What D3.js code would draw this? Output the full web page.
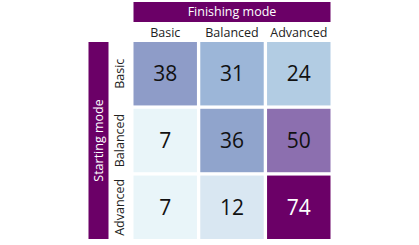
<!DOCTYPE html>
<html>
<head>
<meta charset="utf-8">
<script src="https://cdn.jsdelivr.net/npm/d3@7"></script>
<style>
  html, body { margin: 0; padding: 0; background: #fff; }
  svg { display: block; font-family: "Open Sans", "Noto Sans", sans-serif; }
</style>
</head>
<body>
<div id="chart"></div>
<script>
'use strict';

// data
const finishingModes = ['Basic', 'Balanced', 'Advanced'];
const startingModes = ['Basic', 'Balanced', 'Advanced'];
const basicRow = [38, 31, 24];
const balancedRow = [7, 36, 50];
const advancedRow = [7, 12, 74];
const rows = [basicRow, balancedRow, advancedRow];

const width = 419,
      height = 245;
const purple = '#6b0067';

const svg = d3.select('#chart')
              .append('svg')
              .attr('width', width)
              .attr('height', height);

let x = d3.scaleBand()
          .domain(finishingModes)
          .range([133.5, 330.5])
          .paddingInner(0.05);
let y = d3.scaleBand()
          .domain(startingModes)
          .range([42, 239])
          .paddingInner(0.05);

// colour ramp
let color = d3.scaleLinear()
              .domain([7, 12, 24, 31, 37, 50, 74])
              .range(['#e9f5f9', '#d9e7f2', '#b2cce3', '#9cb6d8', '#8ea0ca', '#8c6faf', purple])
              .interpolate(d3.interpolateRgb);

let cells = [];
rows.forEach(function(row, i) {
    row.forEach(function(v, j) {
        cells.push({'start': startingModes[i], 'finish': finishingModes[j], 'value': v});
    });
});

// header bars
svg.append('rect')
   .attr('x', x.range()[0])
   .attr('y', 2)
   .attr('width', x.range()[1] - x.range()[0])
   .attr('height', 20)
   .attr('fill', purple);
svg.append('text')
   .attr('x', (x.range()[0] + x.range()[1]) / 2)
   .attr('y', 12)
   .attr('dy', '0.35em')
   .attr('text-anchor', 'middle')
   .attr('fill', '#fff')
   .style('font-size', '12.5px')
   .text('Finishing mode');

svg.append('rect')
   .attr('x', 88.5)
   .attr('y', y.range()[0])
   .attr('width', 20)
   .attr('height', y.range()[1] - y.range()[0])
   .attr('fill', purple);
svg.append('text')
   .attr('transform', 'translate(98.5,' + (y.range()[0] + y.range()[1]) / 2 + ') rotate(-90)')
   .attr('dy', '0.35em')
   .attr('text-anchor', 'middle')
   .attr('fill', '#fff')
   .style('font-size', '12.5px')
   .text('Starting mode');

// column / row labels
svg.selectAll('.col-label')
   .data(finishingModes)
   .enter()
   .append('text')
   .attr('class', 'col-label')
   .attr('x', function(d) { return x(d) + x.bandwidth() / 2; })
   .attr('y', 33)
   .attr('dy', '0.35em')
   .attr('text-anchor', 'middle')
   .attr('fill', '#222')
   .style('font-size', '12.5px')
   .text(function(d) { return d; });

svg.selectAll('.row-label')
   .data(startingModes)
   .enter()
   .append('text')
   .attr('class', 'row-label')
   .attr('transform', function(d) {
       return 'translate(120,' + (y(d) + y.bandwidth() / 2) + ') rotate(-90)';
   })
   .attr('dy', '0.35em')
   .attr('text-anchor', 'middle')
   .attr('fill', '#222')
   .style('font-size', '12.5px')
   .text(function(d) { return d; });

// cells
svg.selectAll('.cell')
   .data(cells)
   .enter()
   .append('rect')
   .attr('class', 'cell')
   .attr('x', function(d) { return x(d.finish); })
   .attr('y', function(d) { return y(d.start); })
   .attr('width', x.bandwidth())
   .attr('height', y.bandwidth())
   .attr('fill', function(d) { return color(d.value); });

svg.selectAll('.cell-text')
   .data(cells)
   .enter()
   .append('text')
   .attr('class', 'cell-text')
   .attr('x', function(d) { return x(d.finish) + x.bandwidth() / 2; })
   .attr('y', function(d) { return y(d.start) + y.bandwidth() / 2; })
   .attr('dy', '0.35em')
   .attr('text-anchor', 'middle')
   .attr('fill', function(d) { return d.value > 60 ? '#fff' : '#111'; })
   .style('font-size', '21px')
   .text(function(d) { return d.value; });
</script>
</body>
</html>
